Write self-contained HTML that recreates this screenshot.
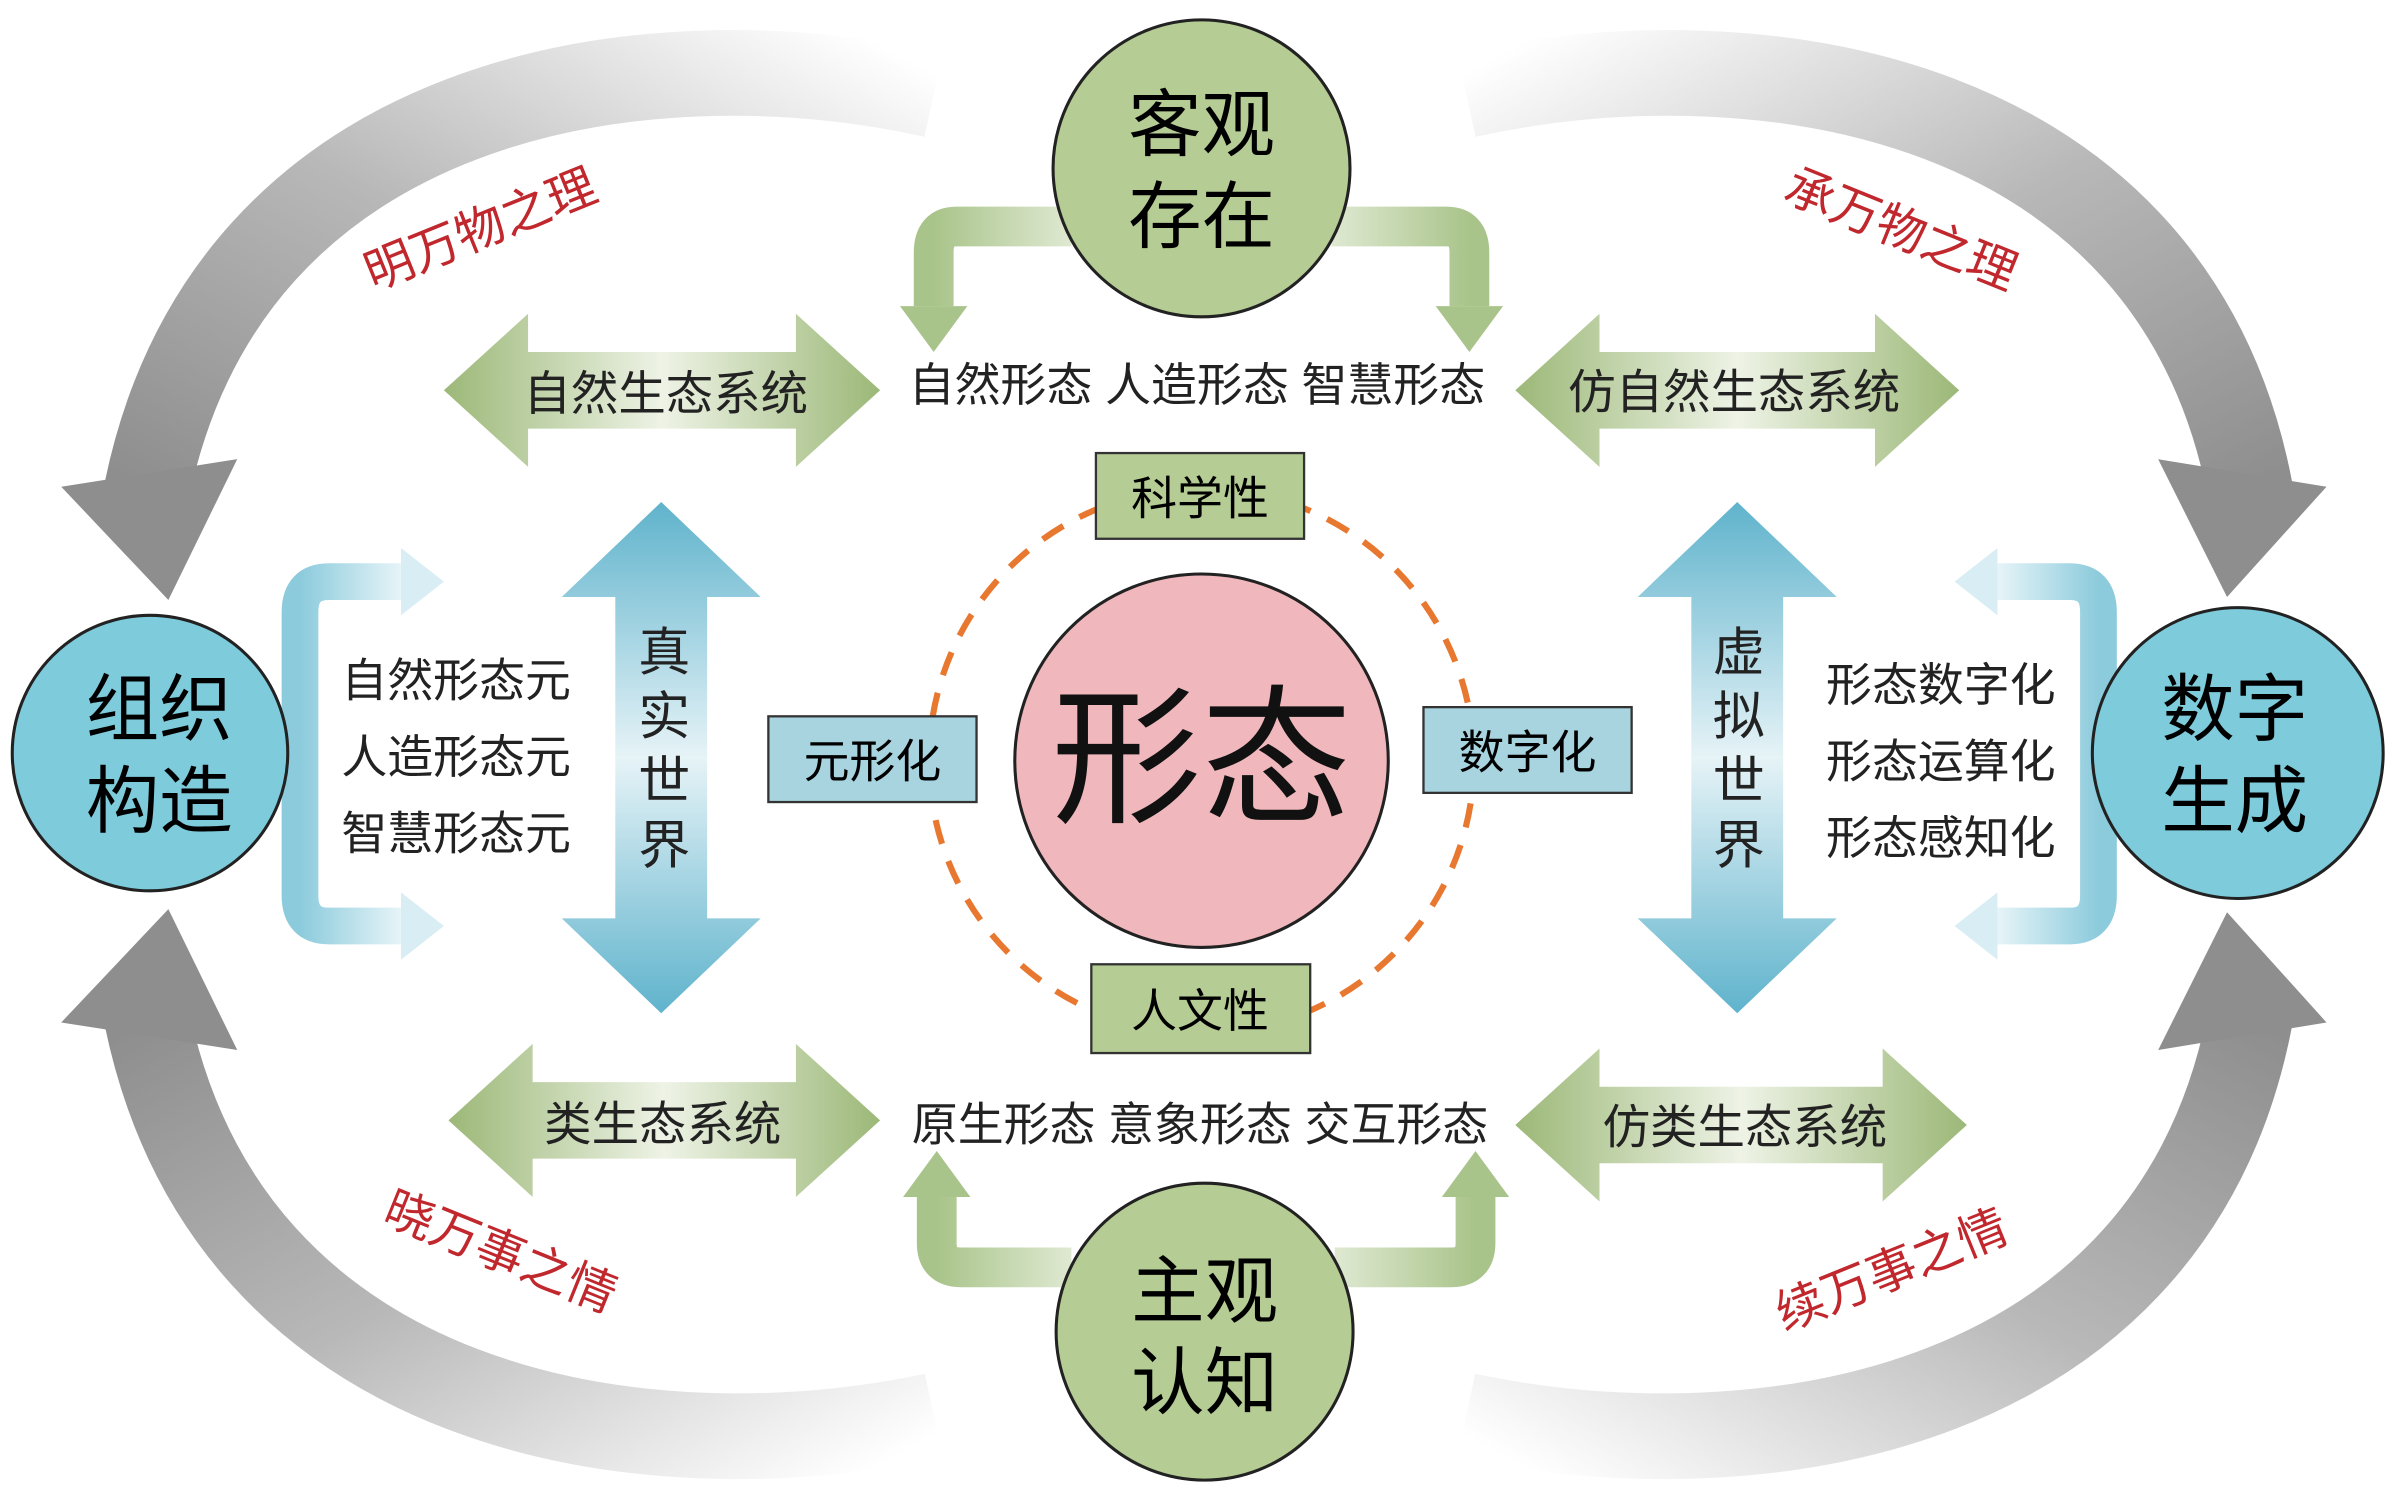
<!DOCTYPE html>
<html><head><meta charset="utf-8"><style>
html,body{margin:0;padding:0;background:#fff;}
svg{display:block}
text{font-family:"Liberation Sans","Noto Sans CJK SC",sans-serif;}
</style></head><body>
<svg width="2400" height="1500" viewBox="0 0 1568 980" xmlns="http://www.w3.org/2000/svg">
<defs>
<linearGradient id="gTL" x1="1" y1="0" x2="0" y2="1"><stop offset="0" stop-color="#fff"/><stop offset="0.5" stop-color="#b8b8b8"/><stop offset="1" stop-color="#8e8e8e"/></linearGradient>
<linearGradient id="gTR" x1="0" y1="0" x2="1" y2="1"><stop offset="0" stop-color="#fff"/><stop offset="0.5" stop-color="#b8b8b8"/><stop offset="1" stop-color="#8e8e8e"/></linearGradient>
<linearGradient id="gBL" x1="1" y1="1" x2="0" y2="0"><stop offset="0" stop-color="#fff"/><stop offset="0.5" stop-color="#b8b8b8"/><stop offset="1" stop-color="#8e8e8e"/></linearGradient>
<linearGradient id="gBR" x1="0" y1="1" x2="1" y2="0"><stop offset="0" stop-color="#fff"/><stop offset="0.5" stop-color="#b8b8b8"/><stop offset="1" stop-color="#8e8e8e"/></linearGradient>
<linearGradient id="gGreen" x1="0" y1="0" x2="1" y2="0"><stop offset="0" stop-color="#9cb878"/><stop offset="0.5" stop-color="#eef3e6"/><stop offset="1" stop-color="#9cb878"/></linearGradient>
<linearGradient id="gBlue" x1="0" y1="0" x2="0" y2="1"><stop offset="0" stop-color="#5fb3cc"/><stop offset="0.5" stop-color="#e6f3f7"/><stop offset="1" stop-color="#5fb3cc"/></linearGradient>
<linearGradient id="gElbow" x1="0" y1="0" x2="1" y2="0"><stop offset="0" stop-color="#a9c48a"/><stop offset="1" stop-color="#dfe9d2"/></linearGradient>
<linearGradient id="gElbowR" x1="1" y1="0" x2="0" y2="0"><stop offset="0" stop-color="#a9c48a"/><stop offset="1" stop-color="#dfe9d2"/></linearGradient>
<linearGradient id="gLB" x1="0" y1="0" x2="1" y2="0"><stop offset="0" stop-color="#8ccbdc"/><stop offset="1" stop-color="#e6f4f8"/></linearGradient>
<linearGradient id="gLBR" x1="1" y1="0" x2="0" y2="0"><stop offset="0" stop-color="#8ccbdc"/><stop offset="1" stop-color="#e6f4f8"/></linearGradient>
</defs>

<path d="M610,62 C420,20 150,60 96,320" fill="none" stroke="url(#gTL)" stroke-width="56"/>
<polygon points="40,318 155,300 110,392" fill="#8e8e8e"/>
<path d="M958,62 C1150,20 1420,60 1470,320" fill="none" stroke="url(#gTR)" stroke-width="56"/>
<polygon points="1520,318 1410,300 1455,390" fill="#8e8e8e"/>
<path d="M610,925 C420,965 150,925 96,665" fill="none" stroke="url(#gBL)" stroke-width="56"/>
<polygon points="40,668 155,686 110,594" fill="#8e8e8e"/>
<path d="M958,925 C1150,965 1420,925 1470,665" fill="none" stroke="url(#gBR)" stroke-width="56"/>
<polygon points="1520,668 1410,686 1455,596" fill="#8e8e8e"/>

<path d="M700,148 L625,148 Q610,148 610,165 L610,200" fill="none" stroke="url(#gElbow)" stroke-width="26"/>
<polygon points="588,200 632,200 610,230" fill="#a9c48a"/>
<path d="M870,148 L945,148 Q960,148 960,165 L960,200" fill="none" stroke="url(#gElbowR)" stroke-width="26"/>
<polygon points="938,200 982,200 960,230" fill="#a9c48a"/>
<path d="M700,828 L628,828 Q612,828 612,812 L612,782" fill="none" stroke="url(#gElbow)" stroke-width="26"/>
<polygon points="590,782 634,782 612,752" fill="#a9c48a"/>
<path d="M872,828 L948,828 Q964,828 964,812 L964,782" fill="none" stroke="url(#gElbowR)" stroke-width="26"/>
<polygon points="942,782 986,782 964,752" fill="#a9c48a"/>

<polygon points="290,255 345,205 345,230 520,230 520,205 575,255 520,305 520,280 345,280 345,305" fill="url(#gGreen)"/>
<polygon points="990,255 1045,205 1045,230 1225,230 1225,205 1280,255 1225,305 1225,280 1045,280 1045,305" fill="url(#gGreen)"/>
<polygon points="293,732 348,682 348,707 520,707 520,682 575,732 520,782 520,757 348,757 348,782" fill="url(#gGreen)"/>
<polygon points="990,735 1045,685 1045,710 1230,710 1230,685 1285,735 1230,785 1230,760 1045,760 1045,785" fill="url(#gGreen)"/>

<polygon points="432,328 497,390 462,390 462,600 497,600 432,662 367,600 402,600 402,390 367,390" fill="url(#gBlue)"/>
<polygon points="1135,328 1200,390 1165,390 1165,600 1200,600 1135,662 1070,600 1105,600 1105,390 1070,390" fill="url(#gBlue)"/>

<path d="M262,380 L215,380 Q196,380 196,400 L196,585 Q196,605 215,605 L262,605" fill="none" stroke="url(#gLB)" stroke-width="24"/>
<polygon points="262,358 290,380 262,402" fill="#d8eef4"/>
<polygon points="262,583 290,605 262,627" fill="#d8eef4"/>
<path d="M1305,380 L1352,380 Q1371,380 1371,400 L1371,585 Q1371,605 1352,605 L1305,605" fill="none" stroke="url(#gLBR)" stroke-width="24"/>
<polygon points="1305,358 1277,380 1305,402" fill="#d8eef4"/>
<polygon points="1305,583 1277,605 1305,627" fill="#d8eef4"/>

<circle cx="785" cy="497" r="178" fill="none" stroke="#e87830" stroke-width="4" stroke-dasharray="16,12"/>
<circle cx="785" cy="497" r="122" fill="#f0b8bc" stroke="#222" stroke-width="2"/>
<text x="785" y="530" font-size="98" text-anchor="middle" fill="#111">形态</text>

<rect x="716" y="296" width="136" height="56" fill="#b5cc94" stroke="#333" stroke-width="1.5"/>
<text x="784" y="336" font-size="30" text-anchor="middle">科学性</text>
<rect x="713" y="630" width="143" height="58" fill="#b5cc94" stroke="#333" stroke-width="1.5"/>
<text x="784" y="671" font-size="30" text-anchor="middle">人文性</text>
<rect x="502" y="468" width="136" height="56" fill="#a8d4e0" stroke="#333" stroke-width="1.5"/>
<text x="570" y="508" font-size="30" text-anchor="middle">元形化</text>
<rect x="930" y="462" width="136" height="56" fill="#a8d4e0" stroke="#333" stroke-width="1.5"/>
<text x="998" y="502" font-size="30" text-anchor="middle">数字化</text>

<circle cx="785" cy="110" r="97" fill="#b5cc94" stroke="#222" stroke-width="2"/>
<text x="785" y="98" font-size="48" text-anchor="middle">客观</text>
<text x="785" y="158" font-size="48" text-anchor="middle">存在</text>
<circle cx="787" cy="870" r="97" fill="#b5cc94" stroke="#222" stroke-width="2"/>
<text x="787" y="860" font-size="48" text-anchor="middle">主观</text>
<text x="787" y="920" font-size="48" text-anchor="middle">认知</text>
<circle cx="98" cy="492" r="90" fill="#7ecbdc" stroke="#222" stroke-width="2"/>
<text x="104" y="480" font-size="48" text-anchor="middle">组织</text>
<text x="104" y="540" font-size="48" text-anchor="middle">构造</text>
<circle cx="1462" cy="492" r="95" fill="#7ecbdc" stroke="#222" stroke-width="2"/>
<text x="1460" y="480" font-size="48" text-anchor="middle">数字</text>
<text x="1460" y="540" font-size="48" text-anchor="middle">生成</text>

<g font-size="31" fill="#222">
<text x="435" y="268" text-anchor="middle">自然生态系统</text>
<text x="1133" y="267" text-anchor="middle">仿自然生态系统</text>
<text x="433" y="745" text-anchor="middle">类生态系统</text>
<text x="1140" y="747" text-anchor="middle">仿类生态系统</text>
</g>
<g font-size="30" fill="#222">
<text x="782" y="262" text-anchor="middle">自然形态 人造形态 智慧形态</text>
<text x="784" y="745" text-anchor="middle">原生形态 意象形态 交互形态</text>
<text x="298" y="455" text-anchor="middle">自然形态元</text>
<text x="298" y="505" text-anchor="middle">人造形态元</text>
<text x="298" y="555" text-anchor="middle">智慧形态元</text>
<text x="1268" y="458" text-anchor="middle">形态数字化</text>
<text x="1268" y="508" text-anchor="middle">形态运算化</text>
<text x="1268" y="558" text-anchor="middle">形态感知化</text>
</g>
<g font-size="34" fill="#222" text-anchor="middle">
<text x="434" y="438">真</text><text x="434" y="480">实</text><text x="434" y="522">世</text><text x="434" y="564">界</text>
<text x="1136" y="438">虚</text><text x="1136" y="480">拟</text><text x="1136" y="522">世</text><text x="1136" y="564">界</text>
</g>
<g font-size="32" fill="#c0282e" text-anchor="middle">
<text transform="translate(318,160) rotate(-22)">明万物之理</text>
<text transform="translate(1238,160) rotate(22)">承万物之理</text>
<text transform="translate(323,828) rotate(22)">晓万事之情</text>
<text transform="translate(1240,840) rotate(-22)">续万事之情</text>
</g>
</svg>
</body></html>
